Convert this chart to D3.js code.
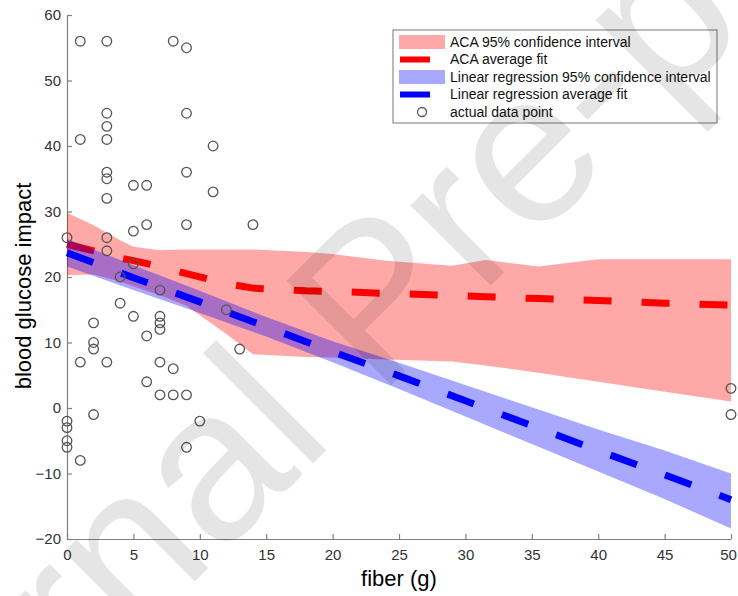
<!DOCTYPE html>
<html>
<head>
<meta charset="utf-8">
<script src="https://cdn.jsdelivr.net/npm/d3@7"></script>
<style>
  body { margin: 0; background: #fff; }
  svg { display: block; font-family: "Liberation Sans", Arial, Helvetica, sans-serif; }
</style>
</head>
<body>
<div class="chart"></div>
<script>
// data
var fiberX = [1, 3, 8, 9, 3, 3, 3, 1, 9, 11, 3, 3, 3, 9, 5, 6, 11, 6, 9, 14, 5, 0, 3, 3, 5, 4, 7, 12, 13,
  4, 5, 7, 7, 7, 2, 2, 2, 6, 1, 3, 7, 8, 6, 7, 8, 9, 0, 0, 0, 0, 2, 10, 9, 1, 50, 50];
var glucoseY = [56, 56, 56, 55, 45, 43, 41, 41, 45, 40, 36, 35, 32, 36, 34, 34, 33, 28, 28, 28, 27, 26, 26, 24, 22, 20, 18, 15, 9,
  16, 14, 14, 13, 12, 13, 10, 9, 11, 7, 7, 7, 6, 4, 2, 2, 2, -2, -3, -5, -6, -1, -2, -6, -8, 3, -1];

// ACA average fit + 95% band
var acaX     = [0, 2, 4, 5, 7, 9, 12, 14, 18, 20, 24, 29, 31.5, 35.5, 40, 45, 50];
var acaFit   = [25.0, 24.0, 22.9, 22.5, 21.6, 20.5, 19.0, 18.3, 17.9, 17.8, 17.5, 17.2, 17.0, 16.7, 16.4, 16.0, 15.7];
var acaLower = [20.3, 20.4, 19.3, 18.6, 17.2, 15.6, 11.3, 8.2, 7.8, 7.7, 7.4, 7.1, 6.5, 5.4, 4.0, 2.5, 1.0];
var acaUpper = [29.8, 27.9, 25.6, 24.6, 24.1, 24.2, 24.2, 24.2, 23.8, 23.5, 22.5, 21.7, 22.6, 21.6, 22.7, 22.7, 22.7];

// linear regression fit + 95% band
var lrX     = [0, 5, 10, 15, 20, 25, 30, 35, 40, 45, 50];
var lrFit   = [23.7, 19.9, 16.2, 12.4, 8.6, 4.9, 1.1, -2.7, -6.5, -10.2, -14.0];
var lrLower = [21.6, 18.0, 14.5, 10.9, 7.0, 2.9, -1.3, -5.5, -9.7, -13.9, -18.4];
var lrUpper = [25.8, 21.8, 17.9, 13.9, 10.2, 6.9, 3.5, 0.1, -3.3, -6.5, -10.0];

var xTicks = [0, 5, 10, 15, 20, 25, 30, 35, 40, 45, 50];
var yTicks = [-20, -10, 0, 10, 20, 30, 40, 50, 60];

var legendLabels = ["ACA 95% confidence interval", "ACA average fit",
  "Linear regression 95% confidence interval", "Linear regression average fit", "actual data point"];

var svgWidth = 738, svgHeight = 596;
var margin = { top: 15, right: 7, bottom: 57, left: 67 };
var width = svgWidth - margin.left - margin.right;
var height = svgHeight - margin.top - margin.bottom;

var svg = d3.select(".chart").append("svg")
  .attr("width", svgWidth)
  .attr("height", svgHeight);

var chartGroup = svg.append("g")
  .attr("transform", `translate(${margin.left}, ${margin.top})`);

var xScale = d3.scaleLinear().domain([0, 50]).range([0, width]);
var yScale = d3.scaleLinear().domain([-20, 60]).range([height, 0]);

// axes (MATLAB style: inward ticks, no box)
var xAxis = d3.axisBottom(xScale).tickValues(xTicks).tickSizeInner(-5).tickSizeOuter(0).tickPadding(10);
var yAxis = d3.axisLeft(yScale).tickValues(yTicks).tickSizeInner(-5).tickSizeOuter(0).tickPadding(6);

var gx = chartGroup.append("g")
  .attr("transform", `translate(0, ${height})`)
  .call(xAxis);
var gy = chartGroup.append("g").call(yAxis);

[gx, gy].forEach(function(g) {
  g.select(".domain").attr("stroke", "#808080").attr("stroke-width", 1.2);
  g.selectAll(".tick line").attr("stroke", "#808080").attr("stroke-width", 1.2);
  g.selectAll(".tick text").attr("fill", "#333").style("font-size", "15px")
    .style("font-family", "'Liberation Sans', Arial, sans-serif");
});
// last x label sits on the right edge, nudge it in a little
gx.selectAll(".tick text").filter(d => d === 50).attr("dx", "-3");

var pairs = function(xs, vs) { return xs.map(function(x, i) { return [x, vs[i]]; }); };

var area = d3.area()
  .x(d => xScale(d[0]))
  .y0(d => yScale(d[1]))
  .y1(d => yScale(d[2]));

var line = d3.line()
  .x(d => xScale(d[0]))
  .y(d => yScale(d[1]));

var plot = chartGroup.append("g");

// ACA band + fit
plot.append("path")
  .datum(acaX.map((x, i) => [x, acaLower[i], acaUpper[i]]))
  .attr("d", area)
  .attr("fill", "#ff0000")
  .attr("fill-opacity", 0.34);

plot.append("path")
  .datum(pairs(acaX, acaFit))
  .attr("d", line)
  .attr("fill", "none")
  .attr("stroke", "#ff0000")
  .attr("stroke-width", 7)
  .attr("stroke-dasharray", "28,30");

// linear regression band + fit
plot.append("path")
  .datum(lrX.map((x, i) => [x, lrLower[i], lrUpper[i]]))
  .attr("d", area)
  .attr("fill", "#0000ff")
  .attr("fill-opacity", 0.34);

plot.append("path")
  .datum(pairs(lrX, lrFit))
  .attr("d", line)
  .attr("fill", "none")
  .attr("stroke", "#0000ff")
  .attr("stroke-width", 7)
  .attr("stroke-dasharray", "28,30");

// data points
plot.selectAll("circle")
  .data(pairs(fiberX, glucoseY))
  .enter()
  .append("circle")
  .attr("cx", d => xScale(d[0]))
  .attr("cy", d => yScale(d[1]))
  .attr("r", 4.8)
  .attr("fill", "none")
  .attr("stroke", "#555")
  .attr("stroke-width", 1.3);

// axis labels
svg.append("text")
  .attr("x", margin.left + width / 2)
  .attr("y", 586)
  .attr("text-anchor", "middle")
  .style("font-size", "22px")
  .text("fiber (g)");

svg.append("text")
  .attr("transform", "translate(31, 286) rotate(-90)")
  .attr("text-anchor", "middle")
  .style("font-size", "22px")
  .text("blood glucose impact");

// legend
var legend = svg.append("g").attr("transform", "translate(393, 30)");
legend.append("rect")
  .attr("width", 324).attr("height", 93)
  .attr("fill", "#fff")
  .attr("stroke", "#777").attr("stroke-width", 1);

var rowY = [12, 29.5, 47, 64.5, 82];
legendLabels.forEach(function(lbl, i) {
  var row = legend.append("g").attr("transform", `translate(0, ${rowY[i]})`);
  if (i === 0 || i === 2) {
    row.append("rect").attr("x", 6).attr("y", -7).attr("width", 46).attr("height", 14)
      .attr("fill", i === 0 ? "#ff0000" : "#0000ff").attr("fill-opacity", 0.34);
  } else if (i === 1 || i === 3) {
    row.append("line").attr("x1", 7).attr("x2", 37).attr("y1", 0).attr("y2", 0)
      .attr("stroke", i === 1 ? "#ff0000" : "#0000ff").attr("stroke-width", 6);
  } else {
    row.append("circle").attr("cx", 29).attr("cy", 0).attr("r", 4.5)
      .attr("fill", "none").attr("stroke", "#555").attr("stroke-width", 1.3);
  }
  row.append("text")
    .attr("x", 57).attr("y", 0).attr("dy", "0.35em")
    .style("font-size", "14px")
    .attr("fill", "#111")
    .text(lbl);
});

// watermark
svg.append("text")
  .attr("transform", "translate(372, 298) rotate(-45)")
  .attr("text-anchor", "middle")
  .attr("dy", "0.35em")
  .style("font-size", "215px")
  .attr("fill", "#000")
  .attr("fill-opacity", 0.1)
  .text("Journal Pre-proof");
</script>
</body>
</html>
